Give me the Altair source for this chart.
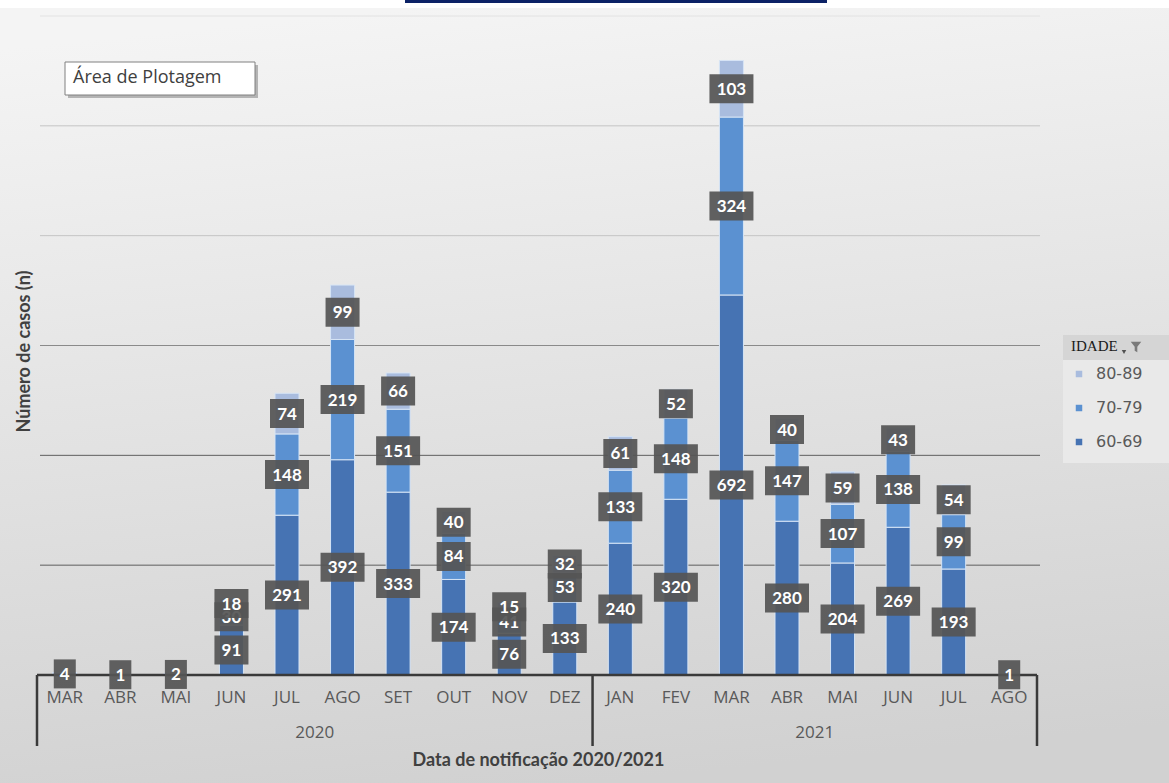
import altair as alt
import pandas as pd

# ---------------- data ----------------
months = ["MAR", "ABR", "MAI", "JUN", "JUL", "AGO", "SET", "OUT", "NOV", "DEZ",
          "JAN", "FEV", "MAR", "ABR", "MAI", "JUN", "JUL", "AGO"]
years = ["2020"] * 10 + ["2021"] * 8
v60 = [4, 1, 2, 91, 291, 392, 333, 174, 76, 133, 240, 320, 692, 280, 204, 269, 193, 1]
v70 = [0, 0, 0, 30, 148, 219, 151, 84, 41, 53, 133, 148, 324, 147, 107, 138, 99, 0]
v80 = [0, 0, 0, 18, 74, 99, 66, 40, 15, 32, 61, 52, 103, 40, 59, 43, 54, 0]
groups = ["60-69", "70-79", "80-89"]
grid_values = [200, 400, 600, 800, 1000, 1200]
year_labels = ["2020", "2021"]

# ---------------- layout constants ----------------
W, H = 1000, 659
YMAX = 1200
PAD = {"left": 37, "top": 16, "right": 132, "bottom": 108}
colors = {"60-69": "#4673b3", "70-79": "#5b91d1", "80-89": "#a9bcde"}
units_per_px = YMAX / H

keys = [f"{y}-{m}" for y, m in zip(years, months)]
rows = []
for i, k in enumerate(keys):
    base = 0
    for g, vals in zip(groups, [v60, v70, v80]):
        v = vals[i]
        rows.append(dict(key=k, group=g, value=v, start=base, end=base + v,
                         mid=base + v / 2))
        base += v
df = pd.DataFrame(rows)
lab = df[df.value > 0].copy()
lab["lo"] = lab["mid"] - 14.5 * units_per_px
lab["hi"] = lab["mid"] + 14.5 * units_per_px
lab["bw"] = lab["value"].astype(str).str.len().map({1: 22, 2: 34, 3: 44})
lab["txt"] = lab["value"].astype(str)

one = pd.DataFrame({"a": [0]})
step = W / len(keys)
split_x = step * sum(1 for y in years if y == "2020")
year_x = [split_x / 2, (split_x + W) / 2]

xscale = alt.Scale(domain=keys, paddingInner=0, paddingOuter=0)
yscale = alt.Scale(domain=[0, YMAX], nice=False, zero=True)

xaxis = alt.Axis(
    title="Data de notificação 2020/2021",
    labelExpr="split(datum.label, '-')[1]", labelAngle=0,
    domain=False, ticks=False, tickSize=0, orient="bottom", grid=False, zindex=1,
    labelFont="Open Sans", labelFontSize=17, labelColor="#595959",
    labelPadding=22, labelBaseline="middle",
    titleFont="Lato", titleFontSize=18, titleFontWeight="bold", titleColor="#404040",
    titleX=501, titleY=85, titleBaseline="middle", titleAlign="center",
)
yaxis = alt.Axis(
    title="Número de casos (n)", labels=False, ticks=False, domain=False,
    grid=False, orient="left", zindex=1,
    titleFont="Lato", titleFontSize=18, titleFontWeight="bold", titleColor="#404040",
    titleX=-13, titleY=335, titleAngle=270, titleAlign="center", titleBaseline="middle",
)

def px(xc):
    return xc - PAD["left"]

def py(yc):
    return yc - PAD["top"]

def vrect(x1, x2, y1, y2, **kw):
    return alt.Chart(one).mark_rect(**kw).encode(
        x=alt.value(px(x1)), x2=alt.value(px(x2)), y=alt.value(py(y1)), y2=alt.value(py(y2)))

# background gradient
bg = vrect(0, 1169, 8, 783,
           color=alt.Gradient(gradient="linear",
                              stops=[alt.GradientStop(color="#f4f4f4", offset=0),
                                     alt.GradientStop(color="#d1d1d1", offset=1)],
                              x1=0.35, y1=0, x2=0.5, y2=1))
navy = vrect(405, 827, 0, 3, color="#0c2266")

# gridlines (behind bars, above background)
grid = alt.Chart(pd.DataFrame({"g": grid_values})).transform_calculate(
    col="datum.g <= 400 ? '#5e5e5e' : (datum.g <= 600 ? '#8a8a8a' : (datum.g <= 1000 ? '#c4c4c4' : '#e2e2e2'))"
).mark_rule(strokeWidth=1).encode(
    y=alt.Y("g:Q", scale=yscale),
    x=alt.value(3), x2=alt.value(W + 3),
    stroke=alt.Stroke("col:N", scale=None, legend=None))

# legend header/body backgrounds
leg_body = vrect(1063, 1169, 360, 463, color="#e9e9e9")
leg_head = vrect(1063, 1169, 335, 360, color="#d5d5d5")
arrow = alt.Chart(one).mark_point(shape="triangle-down", filled=True, color="#505050",
                                  size=20, opacity=1).encode(
    x=alt.value(px(1124)), y=alt.value(py(352)))
funnel = alt.Chart(one).mark_point(
    shape="M-1,-1L1,-1L0.25,-0.05L0.25,1L-0.25,0.7L-0.25,-0.05Z",
    filled=True, color="#7a7a7a", size=110, opacity=1).encode(
    x=alt.value(px(1136)), y=alt.value(py(347)))

# "Área de Plotagem" tooltip
tip_shadow = vrect(68, 258, 65, 98, color="#9a9a9a", opacity=0.7)
tip_box = vrect(65, 255, 62, 95, color="white", stroke="#808080", strokeWidth=1)
tip_text = alt.Chart(one).mark_text(text="Área de Plotagem", font="Open Sans", fontSize=18,
                                    color="#404040", align="left", baseline="middle").encode(
    x=alt.value(px(73)), y=alt.value(py(78)))

bars = alt.Chart(df).mark_bar(size=24, stroke="#d6e4f5", strokeWidth=1).encode(
    x=alt.X("key:N", sort=keys, scale=xscale, axis=xaxis),
    y=alt.Y("start:Q", scale=yscale, axis=yaxis, stack=None),
    y2="end:Q",
    color=alt.Color("group:N",
                    scale=alt.Scale(domain=["80-89", "70-79", "60-69"],
                                    range=[colors["80-89"], colors["70-79"], colors["60-69"]]),
                    legend=alt.Legend(title="IDADE", orient="none", legendX=1034, legendY=323,
                                      direction="vertical", symbolType="square", symbolSize=42,
                                      symbolStrokeWidth=0, labelFont="DejaVu Sans",
                                      labelFontSize=16, labelColor="#595959",
                                      titleFont="Liberation Serif", titleFontSize=15,
                                      titleColor="#1a1a1a", titleFontWeight="normal",
                                      titlePadding=12, rowPadding=18, labelOffset=9,
                                      padding=0)),
)

# axis lines
baseline = alt.Chart(one).mark_rule(color="#3a3a3a", strokeWidth=2.5).encode(
    x=alt.value(0), x2=alt.value(W), y=alt.value(H))
vlines = [alt.Chart(one).mark_rule(color="#3a3a3a", strokeWidth=2.5).encode(
    x=alt.value(p), y=alt.value(H), y2=alt.value(py(746))) for p in [0, split_x, W]]
years_txt = [alt.Chart(one).mark_text(text=t, font="Open Sans", fontSize=17, color="#595959",
                                      baseline="middle").encode(
    x=alt.value(p), y=alt.value(py(733))) for t, p in zip(year_labels, year_x)]

layers = [bg, navy, grid, leg_body, leg_head, arrow, funnel, bars, baseline] + vlines + years_txt
for g in groups:
    sub = lab[lab.group == g]
    box = alt.Chart(sub).mark_bar(color="#555555", opacity=0.93).encode(
        x=alt.X("key:N", sort=keys, scale=xscale),
        y=alt.Y("lo:Q", scale=yscale, stack=None), y2="hi:Q",
        size=alt.Size("bw:Q", scale=None, legend=None))
    txt = alt.Chart(sub).mark_text(font="Lato", fontWeight="bold", fontSize=17,
                                   color="white", baseline="middle", dy=1).encode(
        x=alt.X("key:N", sort=keys, scale=xscale),
        y=alt.Y("mid:Q", scale=yscale), text="txt:N")
    layers += [box, txt]
layers += [tip_shadow, tip_box, tip_text]

chart = alt.layer(*layers).properties(
    width=W, height=H,
    autosize=alt.AutoSizeParams(type="none"),
    padding=PAD,
    background="white",
).configure_view(stroke=None)

chart.save("out.html", embed_options={"renderer": "svg", "actions": False})
